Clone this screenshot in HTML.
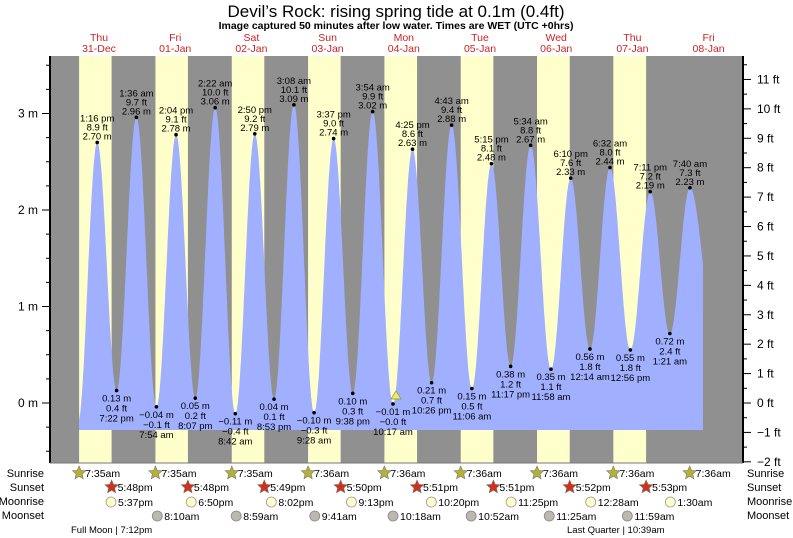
<!DOCTYPE html>
<html><head><meta charset="utf-8"><style>
body{margin:0;background:#fff;}
svg{display:block;font-family:"Liberation Sans",Arial,sans-serif;}
</style></head><body>
<svg id="s" width="793" height="538" xmlns="http://www.w3.org/2000/svg"></svg>
<script>
const S=document.getElementById('s');let h='';
const X=t=>55+t*3.18, Y=m=>403-m*96.5;
h+=`<text x="396" y="17" font-size="17" text-anchor="middle">Devil’s Rock: rising  spring tide at 0.1m (0.4ft)</text>`;
h+=`<text x="396" y="29" font-size="10.5" font-weight="bold" text-anchor="middle">Image captured 50 minutes after low water. Times are WET (UTC +0hrs)</text>`;
h+=`<rect x="50" y="56" width="693" height="407" fill="#909090"/>`;
const sr=7+35/60, ss=[17.8,17.8,17.82,17.83,17.85,17.85,17.87,17.88,17.9];
for(let d=0;d<8;d++){let a=X(d*24+sr),b=Math.min(X(d*24+ss[d]),743);if(a<743)h+=`<rect x="${a}" y="56" width="${b-a}" height="407" fill="#ffffcc"/>`;}
const days=[["Thu","31-Dec"],["Fri","01-Jan"],["Sat","02-Jan"],["Sun","03-Jan"],["Mon","04-Jan"],["Tue","05-Jan"],["Wed","06-Jan"],["Thu","07-Jan"],["Fri","08-Jan"]];
days.forEach((d,i)=>{let x=99+i*76.2;h+=`<text x="${x}" y="41" font-size="10.5" fill="#cc2222" text-anchor="middle">${d[0]}</text><text x="${x}" y="52" font-size="10.5" fill="#cc2222" text-anchor="middle">${d[1]}</text>`;});
const E=[[13.27,2.70,"1:16 pm","8.9 ft"],[19.37,0.13,"7:22 pm","0.4 ft"],[25.6,2.96,"1:36 am","9.7 ft"],[31.9,-0.04,"7:54 am","−0.1 ft"],[38.07,2.78,"2:04 pm","9.1 ft"],[44.12,0.05,"8:07 pm","0.2 ft"],[50.37,3.06,"2:22 am","10.0 ft"],[56.7,-0.11,"8:42 am","−0.4 ft"],[62.83,2.79,"2:50 pm","9.2 ft"],[68.88,0.04,"8:53 pm","0.1 ft"],[75.13,3.09,"3:08 am","10.1 ft"],[81.47,-0.10,"9:28 am","−0.3 ft"],[87.62,2.74,"3:37 pm","9.0 ft"],[93.63,0.10,"9:38 pm","0.3 ft"],[99.9,3.02,"3:54 am","9.9 ft"],[106.28,-0.01,"10:17 am","−0.0 ft"],[112.42,2.63,"4:25 pm","8.6 ft"],[118.43,0.21,"10:26 pm","0.7 ft"],[124.72,2.88,"4:43 am","9.4 ft"],[131.1,0.15,"11:06 am","0.5 ft"],[137.25,2.48,"5:15 pm","8.1 ft"],[143.28,0.38,"11:17 pm","1.2 ft"],[149.57,2.67,"5:34 am","8.8 ft"],[155.97,0.35,"11:58 am","1.1 ft"],[162.17,2.33,"6:10 pm","7.6 ft"],[168.23,0.56,"12:14 am","1.8 ft"],[174.53,2.44,"6:32 am","8.0 ft"],[180.93,0.55,"12:56 pm","1.8 ft"],[187.18,2.19,"7:11 pm","7.2 ft"],[193.35,0.72,"1:21 am","2.4 ft"],[199.67,2.23,"7:40 am","7.3 ft"]];
const P=[[7.2,-0.2],...E.map(e=>[e[0],e[1]]),[207.5,0.75]];
let t0=(79-55)/3.18,t1=(703-55)/3.18,pts=[];
for(let t=t0;t<=t1;t+=0.1){let i=0;while(P[i+1][0]<t)i++;let a=P[i],b=P[i+1],f=(t-a[0])/(b[0]-a[0]);let v=a[1]+(b[1]-a[1])*(1-Math.cos(Math.PI*f))/2;pts.push(X(t).toFixed(1)+","+Math.min(Y(v),430).toFixed(1));}
h+=`<path d="M79,430 L${pts.join(" L")} L703,430 Z" fill="#a0b0ff"/>`;
E.forEach((e,i)=>{let x=X(e[0]),y=Y(e[1]);h+=`<circle cx="${x}" cy="${y}" r="1.8"/>`;let m=e[1].toFixed(2).replace("-","−")+" m";
if(e[1]>1)h+=`<text font-size="9.5" text-anchor="middle"><tspan x="${x}" y="${y-21}">${e[2]}</tspan><tspan x="${x}" y="${y-12}">${e[3]}</tspan><tspan x="${x}" y="${y-3}">${m}</tspan></text>`;
else h+=`<text font-size="9.5" text-anchor="middle"><tspan x="${x}" y="${y+11}">${m}</tspan><tspan x="${x}" y="${y+21}">${e[3]}</tspan><tspan x="${x}" y="${y+31}">${e[2]}</tspan></text>`;});
h+=`<polygon points="396,391 401,399 391,399" fill="#ee5" stroke="#886" stroke-width=".7"/>`;
h+=`<line x1="50" y1="56" x2="50" y2="463" stroke="#000" stroke-width="2"/><line x1="743" y1="56" x2="743" y2="463" stroke="#000" stroke-width="2"/><line x1="50" y1="463" x2="743" y2="463" stroke="#777"/>`;
for(let m=-0.5;m<=3.5;m+=0.25){let y=Y(m);if(y<56||y>463)continue;let maj=Math.abs(m-Math.round(m))<.01;h+=`<line x1="${maj?42:46}" y1="${y}" x2="50" y2="${y}" stroke="#000"/>`;if(maj)h+=`<text x="38" y="${y+4}" font-size="12" text-anchor="end">${m} m</text>`;}
for(let f=-2;f<=11.5;f+=0.5){let y=Y(f*0.3048);if(y<56||y>464)continue;let maj=f%1==0;h+=`<line x1="743" y1="${y}" x2="${maj?751:747}" y2="${y}" stroke="#000"/>`;if(maj)h+=`<text x="757" y="${y+4}" font-size="12">${String(f).replace("-","−")} ft</text>`;}
[["Sunrise",477],["Sunset",491],["Moonrise",505],["Moonset",519]].forEach(r=>{h+=`<text x="44" y="${r[1]}" font-size="11" text-anchor="end">${r[0]}</text><text x="747" y="${r[1]}" font-size="11">${r[0]}</text>`;});
const star=(x,y,c)=>{let p=[];for(let k=0;k<10;k++){let r=k%2?3.2:7,a=-Math.PI/2+k*Math.PI/5;p.push((x+r*Math.cos(a)).toFixed(1)+","+(y+r*Math.sin(a)).toFixed(1));}return `<polygon points="${p.join(" ")}" fill="${c}" stroke="#776" stroke-width=".6"/>`;};
const srt=["7:35am","7:35am","7:35am","7:36am","7:36am","7:36am","7:36am","7:36am","7:36am"];
for(let d=0;d<9;d++){let x=X(d*24+sr);h+=star(x,473,"#b5b03a")+`<text x="${x+6}" y="477" font-size="10.5">${srt[d]}</text>`;}
const sst=["5:48pm","5:48pm","5:49pm","5:50pm","5:51pm","5:51pm","5:52pm","5:53pm"];
for(let d=0;d<8;d++){let x=X(d*24+ss[d]);h+=star(x,487,"#d03020")+`<text x="${x+6}" y="491" font-size="10.5">${sst[d]}</text>`;}
const mr=[[17.62,"5:37pm"],[42.83,"6:50pm"],[68.03,"8:02pm"],[93.22,"9:13pm"],[118.33,"10:20pm"],[143.42,"11:25pm"],[168.47,"12:28am"],[193.5,"1:30am"]];
mr.forEach(m=>{let x=X(m[0]);h+=`<circle cx="${x}" cy="502" r="5" fill="#ffffcc" stroke="#999" stroke-width=".8"/><text x="${x+7}" y="506" font-size="10.5">${m[1]}</text>`;});
const ms=[[32.17,"8:10am"],[56.98,"8:59am"],[81.68,"9:41am"],[106.3,"10:18am"],[130.87,"10:52am"],[155.42,"11:25am"],[179.98,"11:59am"]];
ms.forEach(m=>{let x=X(m[0]);h+=`<circle cx="${x}" cy="516" r="5" fill="#bbb8b0" stroke="#888" stroke-width=".8"/><text x="${x+7}" y="520" font-size="10.5">${m[1]}</text>`;});
h+=`<text x="71" y="533" font-size="9.5">Full Moon | 7:12pm</text><text x="567" y="533" font-size="9.5">Last Quarter | 10:39am</text>`;
S.innerHTML=h;
</script>
</body></html>
